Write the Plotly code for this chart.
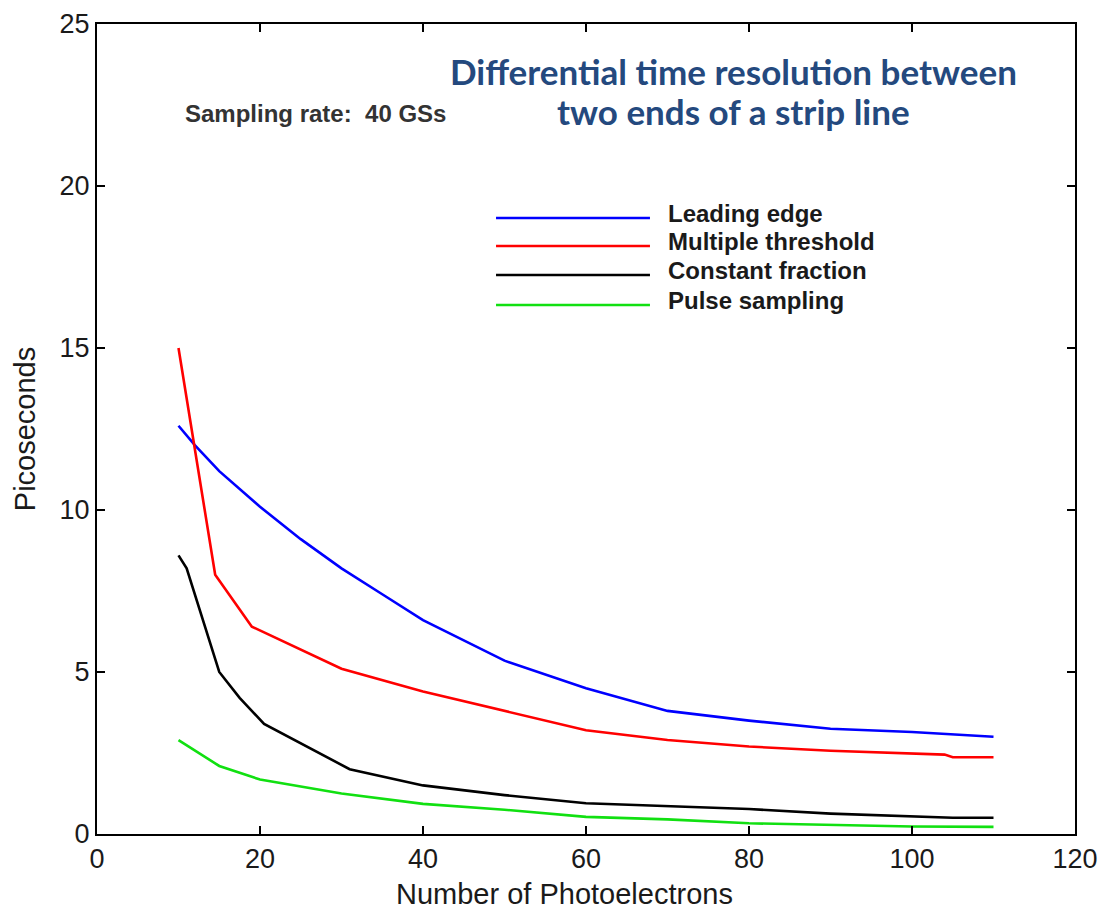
import plotly.graph_objects as go

# Data
le_x = [10, 12, 15, 20, 25, 30, 35, 40, 50, 60, 70, 80, 90, 100, 110]
le_y = [12.6, 12.0, 11.2, 10.1, 9.1, 8.2, 7.4, 6.6, 5.35, 4.5, 3.8, 3.5, 3.25, 3.15, 3.0]

mt_x = [10, 14.5, 19, 25, 30, 40, 50, 60, 70, 80, 90, 100, 104, 105, 110]
mt_y = [15.0, 8.0, 6.4, 5.7, 5.1, 4.4, 3.8, 3.2, 2.9, 2.7, 2.57, 2.5, 2.45, 2.37, 2.37]

cf_x = [10, 11, 15, 17.5, 20.5, 25, 31, 40, 50, 60, 70, 80, 90, 100, 105, 110]
cf_y = [8.6, 8.2, 5.0, 4.2, 3.4, 2.8, 2.0, 1.5, 1.2, 0.95, 0.85, 0.77, 0.63, 0.55, 0.5, 0.5]

ps_x = [10, 15, 20, 30, 40, 50, 60, 70, 80, 90, 100, 110]
ps_y = [2.9, 2.1, 1.68, 1.25, 0.93, 0.75, 0.53, 0.45, 0.33, 0.27, 0.23, 0.22]

series = [
    ("Leading edge", le_x, le_y, "#0000ff"),
    ("Multiple threshold", mt_x, mt_y, "#ff0000"),
    ("Constant fraction", cf_x, cf_y, "#000000"),
    ("Pulse sampling", ps_x, ps_y, "#11e011"),
]

x_ticks = [0, 20, 40, 60, 80, 100, 120]
y_ticks = [0, 5, 10, 15, 20, 25]

FONT = "Liberation Sans, Arial, sans-serif"

fig = go.Figure()
for name, xs, ys, col in series:
    fig.add_trace(go.Scatter(x=xs, y=ys, mode="lines", name=name,
                             line=dict(color=col, width=2.6), showlegend=False))

# Custom legend (long line samples like the reference)
leg_y = [0.7605, 0.7259, 0.6901, 0.6531]
for (name, xs, ys, col), ly in zip(series, leg_y):
    fig.add_shape(type="line", xref="paper", yref="paper",
                  x0=0.408, x1=0.5654, y0=ly, y1=ly,
                  line=dict(color=col, width=2.6))
    fig.add_annotation(xref="paper", yref="paper", x=0.582, y=ly + 0.006,
                       text="<b>" + name + "</b>", showarrow=False,
                       xanchor="left", yanchor="middle",
                       font=dict(family=FONT, size=24, color="#1a1a1a"))

fig.add_annotation(xref="paper", yref="paper", x=0.651, y=0.9415,
                   text="<b>Differential time resolution between</b>",
                   showarrow=False, xanchor="center", yanchor="middle",
                   font=dict(family="Lato, Open Sans", size=35, color="#24497e"))
fig.add_annotation(xref="paper", yref="paper", x=0.651, y=0.892,
                   text="<b>two ends of a strip line</b>",
                   showarrow=False, xanchor="center", yanchor="middle",
                   font=dict(family="Lato, Open Sans", size=35, color="#24497e"))

fig.add_annotation(xref="paper", yref="paper", x=0.088, y=0.890,
                   text="<b>Sampling rate:  40 GSs</b>", showarrow=False,
                   xanchor="left", yanchor="middle",
                   font=dict(family=FONT, size=24, color="#333333"))

# X axis title (offset left of centre, as in the reference)
fig.add_annotation(xref="paper", yref="paper", x=0.4785, y=-0.0945,
                   text="Number of Photoelectrons", showarrow=False,
                   xanchor="center", yanchor="bottom", borderpad=0,
                   font=dict(family=FONT, size=29, color="#1a1a1a"))

axis_common = dict(showline=True, linecolor="black", linewidth=2, mirror="ticks",
                   ticks="inside", ticklen=8, tickwidth=1.5, tickcolor="black",
                   showgrid=False, zeroline=False, automargin=False,
                   tickfont=dict(family=FONT, size=27, color="#1a1a1a"))

fig.update_layout(
    width=1097, height=903,
    margin=dict(l=89, r=30, t=16, b=77, autoexpand=False),
    paper_bgcolor="white", plot_bgcolor="white",
    xaxis=dict(range=[0, 120], tickvals=x_ticks, **axis_common),
    yaxis=dict(range=[0, 25], tickvals=y_ticks,
               title=dict(text="Picoseconds",
                          font=dict(family=FONT, size=29, color="#1a1a1a")),
               **axis_common),
)

fig.write_html("out.html")
